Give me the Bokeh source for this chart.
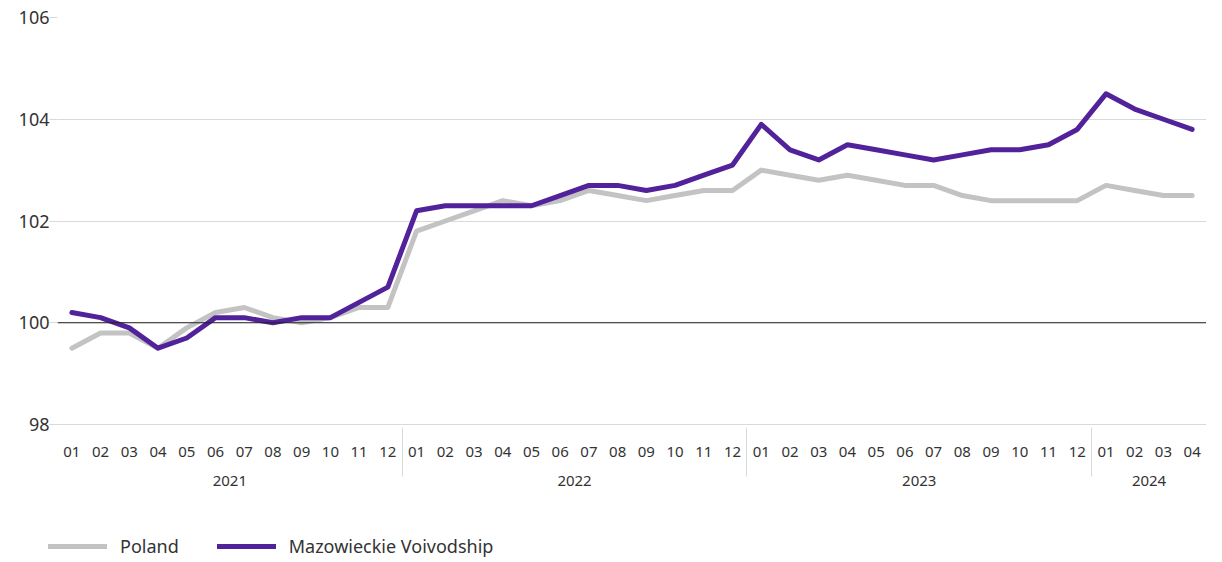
from bokeh.plotting import figure
from bokeh.layouts import column
from bokeh.models import FactorRange, Range1d, Span, Legend, LegendItem, FixedTicker, ColumnDataSource
from bokeh.embed import file_html
from bokeh.resources import INLINE

years = ["2021"] * 12 + ["2022"] * 12 + ["2023"] * 12 + ["2024"] * 4
months = ["01", "02", "03", "04", "05", "06", "07", "08", "09", "10", "11", "12"] * 3 + ["01", "02", "03", "04"]

poland = [99.5, 99.8, 99.8, 99.5, 99.9, 100.2, 100.3, 100.1, 100.0, 100.1, 100.3, 100.3,
          101.8, 102.0, 102.2, 102.4, 102.3, 102.4, 102.6, 102.5, 102.4, 102.5, 102.6, 102.6,
          103.0, 102.9, 102.8, 102.9, 102.8, 102.7, 102.7, 102.5, 102.4, 102.4, 102.4, 102.4,
          102.7, 102.6, 102.5, 102.5]
mazowieckie = [100.2, 100.1, 99.9, 99.5, 99.7, 100.1, 100.1, 100.0, 100.1, 100.1, 100.4, 100.7,
               102.2, 102.3, 102.3, 102.3, 102.3, 102.5, 102.7, 102.7, 102.6, 102.7, 102.9, 103.1,
               103.9, 103.4, 103.2, 103.5, 103.4, 103.3, 103.2, 103.3, 103.4, 103.4, 103.5, 103.8,
               104.5, 104.2, 104.0, 103.8]
y_ticks = [98, 100, 102, 104, 106]
series_names = ["Poland", "Mazowieckie Voivodship"]

FONT = "Noto Sans"
GRAY = "#c3c3c3"
PURPLE = "#52229b"
TXT = "#333333"

factors = list(zip(years, months))
src = ColumnDataSource(dict(x=factors, pl=poland, mz=mazowieckie))

p = figure(frame_width=1149, frame_height=407, output_backend="svg", toolbar_location=None,
           x_range=FactorRange(*factors, factor_padding=0, group_padding=0, range_padding=0),
           y_range=Range1d(98, 106))
p.min_border_left = 57
p.min_border_top = 17
p.min_border_right = 0
p.min_border_bottom = 80
p.outline_line_color = None
p.background_fill_color = "white"

p.xgrid.grid_line_color = None
p.ygrid.grid_line_color = "#d9d9d9"
p.ygrid.grid_line_width = 1
p.yaxis.ticker = FixedTicker(ticks=y_ticks)
p.yaxis.axis_line_color = None
p.yaxis.major_tick_line_color = "#d9d9d9"
p.yaxis.major_tick_in = 0
p.yaxis.major_tick_out = 8
p.yaxis.minor_tick_line_color = None
p.yaxis.major_label_text_font = FONT
p.yaxis.major_label_text_font_size = "18px"
p.yaxis.major_label_text_color = TXT
p.yaxis.major_label_standoff = 0

xa = p.xaxis[0]
xa.axis_line_color = "#d9d9d9"
xa.major_tick_line_color = None
xa.major_label_text_font = FONT
xa.major_label_text_font_size = "15px"
xa.major_label_text_color = TXT
xa.major_label_standoff = 16
xa.group_text_font = FONT
xa.group_text_font_size = "15px"
xa.group_text_font_style = "normal"
xa.group_text_color = TXT
xa.separator_line_color = "#d9d9d9"
xa.separator_line_width = 1

p.add_layout(Span(location=100, dimension="width", line_color="#222222", line_width=1))

p.line("x", "pl", source=src, line_color=GRAY, line_width=5, line_join="round", line_cap="round")
p.line("x", "mz", source=src, line_color=PURPLE, line_width=5, line_join="round", line_cap="round")

# legend strip below the chart (its proxy lines lie outside the visible range)
lg = figure(frame_width=1206, frame_height=56, output_backend="svg", toolbar_location=None,
            x_range=Range1d(0, 1), y_range=Range1d(0, 1))
lg.min_border_left = 0
lg.min_border_right = 0
lg.min_border_top = 0
lg.min_border_bottom = 0
lg.outline_line_color = None
lg.axis.visible = False
lg.grid.visible = False
proxy = ColumnDataSource(dict(x=[5, 6], y=[5, 5]))
l1 = lg.line("x", "y", source=proxy, line_color=GRAY, line_width=5, line_cap="round")
l2 = lg.line("x", "y", source=proxy, line_color=PURPLE, line_width=5, line_cap="round")
legend = Legend(items=[LegendItem(label=series_names[0], renderers=[l1]),
                       LegendItem(label=series_names[1], renderers=[l2])],
                orientation="horizontal", location=(48, 2),
                label_text_font=FONT, label_text_font_size="18px", label_text_color=TXT,
                glyph_width=59, glyph_height=10, spacing=38, label_standoff=13,
                border_line_color=None, background_fill_alpha=0, margin=0, padding=0)
lg.add_layout(legend)

layout = column(p, lg, spacing=0)
open("out.html", "w").write(file_html(layout, INLINE))
